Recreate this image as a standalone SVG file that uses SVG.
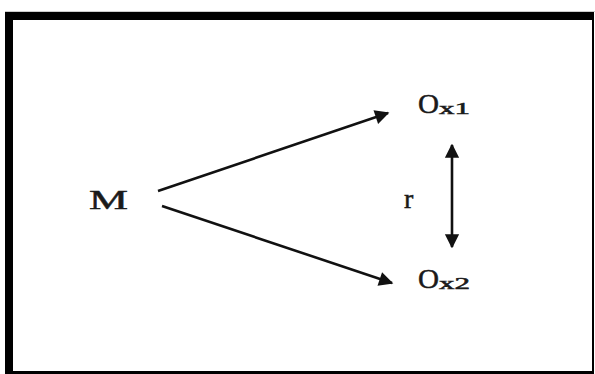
<svg xmlns="http://www.w3.org/2000/svg" width="595" height="374" viewBox="0 0 595 374">
<defs>
<style>
.lbl{font-family:"Liberation Serif","Times New Roman",serif;fill:#1a1a1a;stroke:#1a1a1a;stroke-width:0.5}
.ln{stroke:#111;stroke-width:2.6;fill:none}
</style>
<marker id="ah" viewBox="0 0 10 10" refX="9" refY="5" markerWidth="7" markerHeight="5.5" markerUnits="strokeWidth" orient="auto-start-reverse">
<path d="M0,0 L10,5 L0,10 Z" fill="#111"/>
</marker>
<marker id="ah2" viewBox="0 0 10 10" refX="9" refY="5" markerWidth="5.5" markerHeight="6" markerUnits="strokeWidth" orient="auto-start-reverse">
<path d="M0,0 L10,5 L0,10 Z" fill="#111"/>
</marker>
</defs>
<rect x="0" y="0" width="595" height="374" fill="#fff"/>
<g id="frame">
<line x1="5" y1="11.5" x2="595" y2="11.5" stroke="#ccc" stroke-width="1"/>
<rect x="5" y="12" width="589" height="362" fill="#000"/>
<rect x="13" y="20" width="579" height="351" fill="#fff"/>
</g>
<g id="connectors">
<line class="ln" x1="158" y1="191" x2="388" y2="113" marker-end="url(#ah)"/>
<line class="ln" x1="162" y1="206" x2="392" y2="283" marker-end="url(#ah)"/>
<line class="ln" x1="452" y1="145" x2="452" y2="247" stroke-width="3" marker-start="url(#ah2)" marker-end="url(#ah2)"/>
</g>
<g id="node-M">
<text class="lbl" x="89" y="209" font-size="28" textLength="39" lengthAdjust="spacingAndGlyphs">M</text>
</g>
<g id="node-Ox1">
<text class="lbl" x="418" y="113" font-size="28" textLength="21" lengthAdjust="spacingAndGlyphs">O</text>
<text class="lbl" x="439" y="114" font-size="16" textLength="31" lengthAdjust="spacingAndGlyphs">x1</text>
</g>
<g id="node-Ox2">
<text class="lbl" x="418" y="288" font-size="28" textLength="21" lengthAdjust="spacingAndGlyphs">O</text>
<text class="lbl" x="439" y="289" font-size="16" textLength="31" lengthAdjust="spacingAndGlyphs">x2</text>
</g>
<g id="label-r">
<text class="lbl" x="404" y="208" font-size="28">r</text>
</g>
</svg>
